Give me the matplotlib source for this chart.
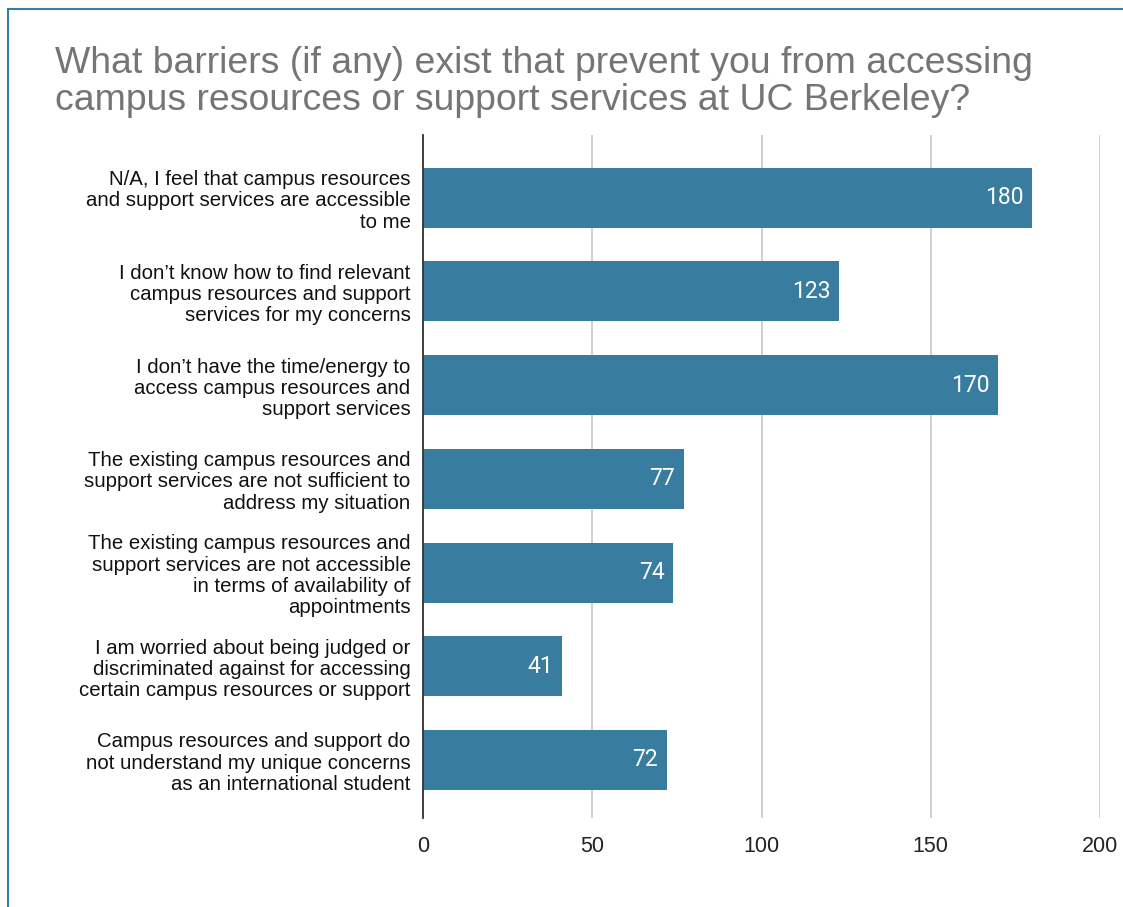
import matplotlib.pyplot as plt
from matplotlib.patches import Rectangle

categories = [
    "N/A, I feel that campus resources\nand support services are accessible\nto me",
    "I don\u2019t know how to find relevant\ncampus resources and support\nservices for my concerns",
    "I don\u2019t have the time/energy to\naccess campus resources and\nsupport services",
    "The existing campus resources and\nsupport services are not sufficient to\naddress my situation",
    "The existing campus resources and\nsupport services are not accessible\nin terms of availability of\nappointments",
    "I am worried about being judged or\ndiscriminated against for accessing\ncertain campus resources or support",
    "Campus resources and support do\nnot understand my unique concerns\nas an international student",
]
counts = [180, 123, 170, 77, 74, 41, 72]
ticks = [0, 50, 100, 150, 200]

plt.rcParams['font.family'] = ['Liberation Sans', 'DejaVu Sans']

fig = plt.figure(figsize=(11.23, 9.07), dpi=100)
ax = fig.add_axes([423 / 1123, 1 - 818 / 907, 677 / 1123, 683 / 907])

bar_color = "#387ca0"
y = list(range(len(categories)))
ax.barh(y, counts, height=0.64, color=bar_color, zorder=3)

for yi, v in zip(y, counts):
    ax.text(v - 2.6, yi, str(v), ha="right", va="center", color="white",
            fontsize=16.5, family="Roboto", zorder=4)

ax.set_xlim(0, 200)
ax.set_ylim(len(categories) - 0.5 + 0.12, -0.5 - 0.17)
ax.set_xticks(ticks)
ax.set_xticklabels([str(t) for t in ticks], fontsize=15.5, color="#222222")
ax.set_yticks(y)
ax.set_yticklabels(categories, fontsize=14.7, color="#111111", linespacing=1.15)
ax.tick_params(axis="both", length=0)
ax.tick_params(axis="x", pad=13)
ax.tick_params(axis="y", pad=9)

ax.grid(axis="x", color="#cccccc", linewidth=1.3, zorder=0)
for side in ["top", "right", "bottom"]:
    ax.spines[side].set_visible(False)
ax.spines["left"].set_color("#333333")
ax.spines["left"].set_linewidth(1.3)
ax.spines["left"].set_zorder(5)

fig.text(55 / 1123, 1 - 46 / 907,
         "What barriers (if any) exist that prevent you from accessing\n"
         "campus resources or support services at UC Berkeley?",
         ha="left", va="top", fontsize=26.9, color="#757575", linespacing=1.06)

# thin frame around the chart area
fig.patches.append(Rectangle((8 / 1123, -0.05), 1.2, 1 - 9 / 907 + 0.05,
                             transform=fig.transFigure, fill=False,
                             edgecolor="#3a7ca5", linewidth=1.5))

fig.savefig("out.png", dpi=100)
